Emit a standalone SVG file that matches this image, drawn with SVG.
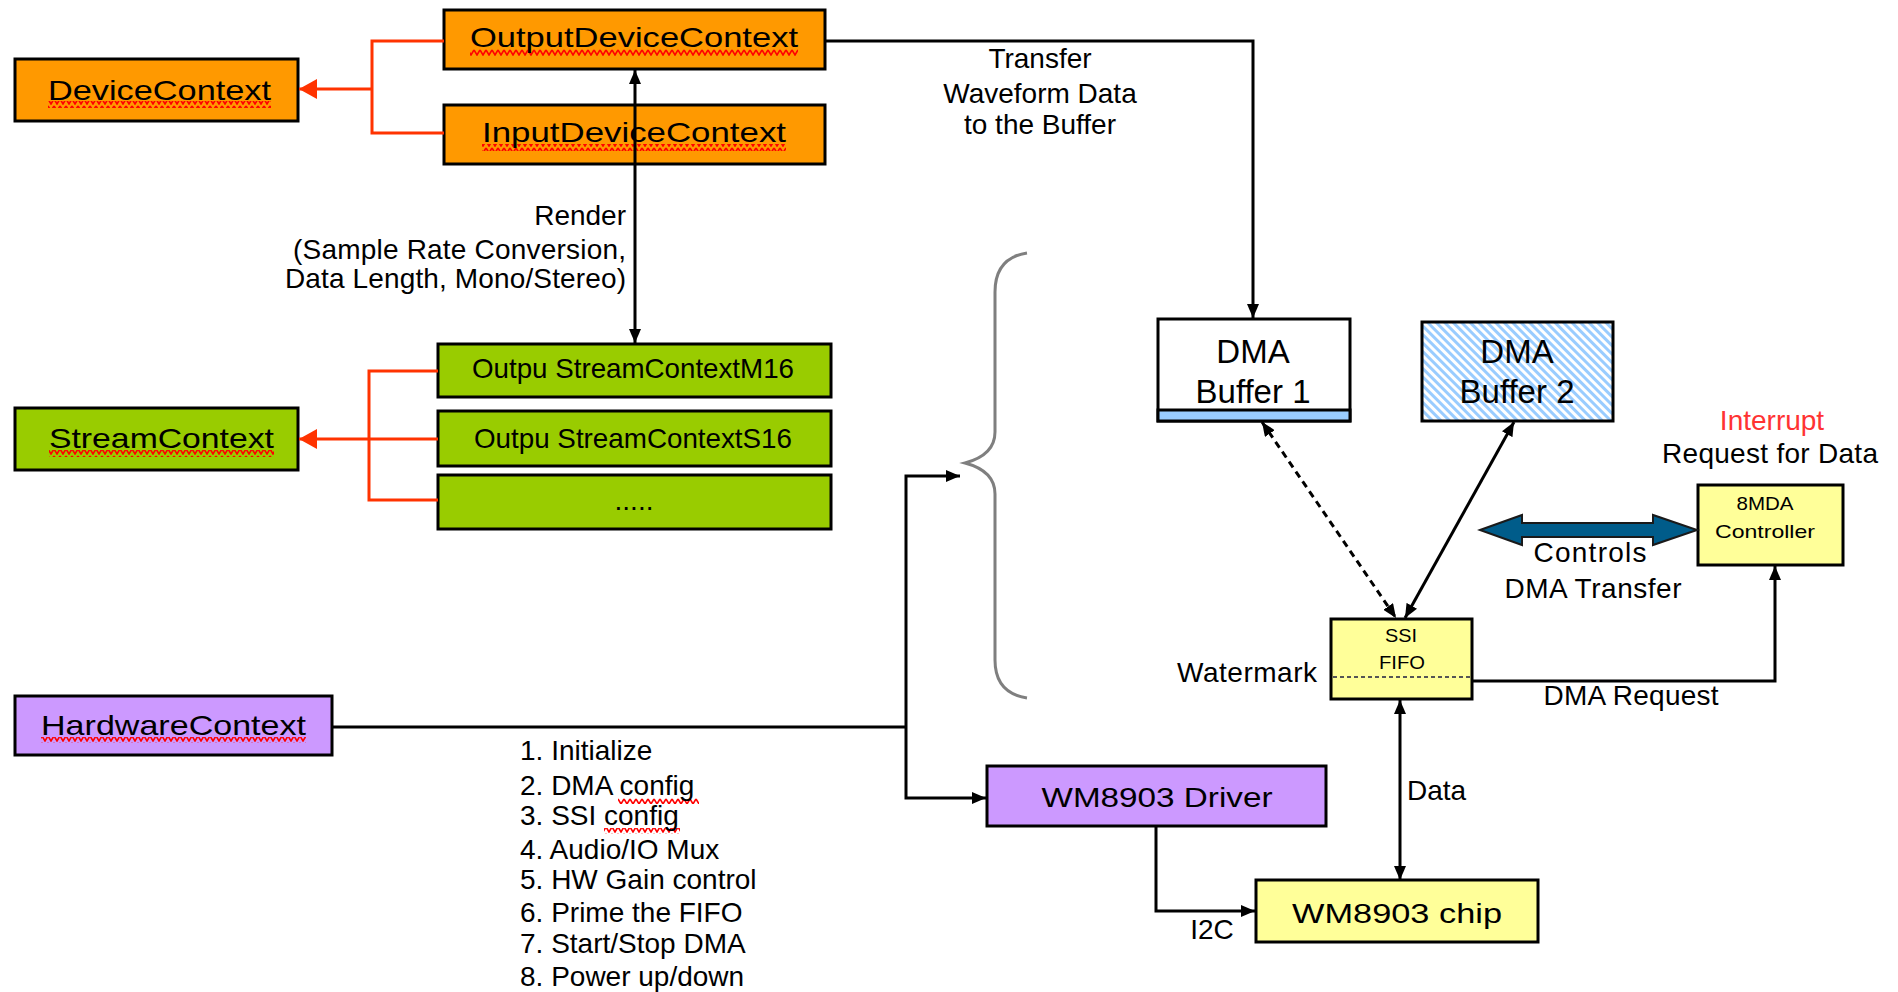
<svg xmlns="http://www.w3.org/2000/svg" width="1898" height="992" viewBox="0 0 1898 992">
  <style>
    text { font-family: "Liberation Sans", Arial, sans-serif; fill: #000; }
    .box { stroke: #000; stroke-width: 3; }
    .orange { fill: #FF9900; }
    .green { fill: #99CC00; }
    .purple { fill: #CC99FF; }
    .yellow { fill: #FFFF99; }
    .lbl { font-size: 28px; text-anchor: middle; }
    .big { font-size: 33px; text-anchor: middle; }
    .small { font-size: 19px; text-anchor: middle; }
    .note { font-size: 28px; }
    .wire { fill: none; stroke: #000; stroke-width: 3; }
    .red { fill: none; stroke: #FF3300; stroke-width: 3; }
    .brace { fill: none; stroke: #7f7f7f; stroke-width: 3; }
  </style>
  <defs>
    <marker id="arr" viewBox="0 0 14 12" refX="14" refY="6" markerWidth="14" markerHeight="12" markerUnits="userSpaceOnUse" orient="auto-start-reverse">
      <path d="M0,0 L14,6 L0,12 z" fill="#000"/>
    </marker>
    <marker id="arrRed" viewBox="0 0 18 20" refX="18" refY="10" markerWidth="18" markerHeight="20" markerUnits="userSpaceOnUse" orient="auto">
      <path d="M0,0 L18,10 L0,20 z" fill="#FF3300"/>
    </marker>
    <pattern id="squiggle" width="6" height="7" patternUnits="userSpaceOnUse">
      <path d="M0,1 L3,6 L6,1" fill="none" stroke="#FF0000" stroke-width="1.6"/>
    </pattern>
    <pattern id="hatch" width="6" height="6" patternUnits="userSpaceOnUse" patternTransform="rotate(-45)">
      <rect width="6" height="6" fill="#fff"/>
      <rect width="3" height="6" fill="#99CCFF"/>
    </pattern>
  </defs>

  <rect width="1898" height="992" fill="#fff"/>

  <!-- device contexts -->
  <g id="device-context">
    <rect class="box orange" x="15" y="59" width="283" height="62"/>
    <rect x="48" y="101" width="223" height="7" fill="url(#squiggle)"/>
    <text class="lbl" x="159.5" y="100" textLength="223" lengthAdjust="spacingAndGlyphs">DeviceContext</text>
  </g>
  <g id="output-device-context">
    <rect class="box orange" x="444" y="10" width="381" height="59"/>
    <rect x="470" y="49" width="328" height="7" fill="url(#squiggle)"/>
    <text class="lbl" x="634" y="47" textLength="328" lengthAdjust="spacingAndGlyphs">OutputDeviceContext</text>
  </g>
  <g id="input-device-context">
    <rect class="box orange" x="444" y="105" width="381" height="59"/>
    <rect x="482" y="144" width="304" height="7" fill="url(#squiggle)"/>
    <text class="lbl" x="634" y="142" textLength="304" lengthAdjust="spacingAndGlyphs">InputDeviceContext</text>
  </g>

  <!-- stream contexts -->
  <g id="stream-context">
    <rect class="box green" x="15" y="408" width="283" height="62"/>
    <rect x="49" y="450" width="225" height="7" fill="url(#squiggle)"/>
    <text class="lbl" x="161.5" y="448" textLength="225" lengthAdjust="spacingAndGlyphs">StreamContext</text>
  </g>
  <g id="stream-m16">
    <rect class="box green" x="438" y="344" width="393" height="53"/>
    <text class="lbl" x="633" y="378" textLength="322" lengthAdjust="spacingAndGlyphs">Outpu StreamContextM16</text>
  </g>
  <g id="stream-s16">
    <rect class="box green" x="438" y="411" width="393" height="55"/>
    <text class="lbl" x="633" y="448" textLength="318" lengthAdjust="spacingAndGlyphs">Outpu StreamContextS16</text>
  </g>
  <g id="stream-more">
    <rect class="box green" x="438" y="475" width="393" height="54"/>
    <text class="lbl" x="634" y="510">.....</text>
  </g>

  <!-- hardware side -->
  <g id="hardware-context">
    <rect class="box purple" x="15" y="696" width="317" height="59"/>
    <rect x="41" y="737" width="265" height="6" fill="url(#squiggle)"/>
    <text class="lbl" x="173.5" y="735" textLength="265" lengthAdjust="spacingAndGlyphs">HardwareContext</text>
  </g>
  <g id="wm8903-driver">
    <rect class="box purple" x="987" y="766" width="339" height="60"/>
    <text class="lbl" x="1157" y="807" font-size="30" textLength="231" lengthAdjust="spacingAndGlyphs">WM8903 Driver</text>
  </g>
  <g id="wm8903-chip">
    <rect class="box yellow" x="1256" y="880" width="282" height="62"/>
    <text class="lbl" x="1397" y="923" font-size="30" textLength="210" lengthAdjust="spacingAndGlyphs">WM8903 chip</text>
  </g>

  <!-- DMA buffers -->
  <g id="dma-buffer-1">
    <rect class="box" x="1158" y="319" width="192" height="102" fill="#fff"/>
    <rect x="1158" y="410" width="192" height="11" fill="#99CCFF" stroke="#000" stroke-width="3"/>
    <text class="big" x="1253" y="363">DMA</text>
    <text class="big" x="1253" y="403">Buffer 1</text>
  </g>
  <g id="dma-buffer-2">
    <rect class="box" x="1422" y="322" width="191" height="99" fill="url(#hatch)"/>
    <text class="big" x="1517" y="363">DMA</text>
    <text class="big" x="1517" y="403">Buffer 2</text>
  </g>

  <!-- SSI FIFO -->
  <g id="ssi-fifo">
    <rect class="box yellow" x="1331" y="619" width="141" height="80"/>
    <line x1="1333" y1="677" x2="1470" y2="677" stroke="#555" stroke-width="2" stroke-dasharray="4,3"/>
    <text class="small" x="1401" y="642" font-size="17" textLength="32" lengthAdjust="spacingAndGlyphs">SSI</text>
    <text class="small" x="1402" y="669" font-size="17" textLength="46" lengthAdjust="spacingAndGlyphs">FIFO</text>
  </g>

  <!-- SDMA controller -->
  <g id="sdma-controller">
    <rect class="box yellow" x="1698" y="485" width="145" height="80"/>
    <text class="small" x="1765" y="510" textLength="57" lengthAdjust="spacingAndGlyphs">8MDA</text>
    <text class="small" x="1765" y="538" textLength="100" lengthAdjust="spacingAndGlyphs">Controller</text>
  </g>

  <!-- connectors -->
  <g id="connectors">
    <!-- inheritance, device contexts -->
    <polyline class="red" points="444,41 372,41 372,133 444,133"/>
    <line class="red" x1="372" y1="89" x2="299" y2="89" marker-end="url(#arrRed)"/>
    <!-- inheritance, stream contexts -->
    <polyline class="red" points="438,371 369,371 369,500 438,500"/>
    <line class="red" x1="438" y1="439" x2="299" y2="439" marker-end="url(#arrRed)"/>

    <!-- render path -->
    <line class="wire" x1="635" y1="70" x2="635" y2="343" stroke-width="2.5" marker-start="url(#arr)" marker-end="url(#arr)"/>

    <!-- waveform transfer into buffer 1 -->
    <polyline class="wire" points="825,41 1253,41 1253,318" marker-end="url(#arr)"/>

    <!-- buffers to FIFO -->
    <line class="wire" x1="1262" y1="422" x2="1396" y2="618" stroke-width="2" stroke-dasharray="7,5" marker-start="url(#arr)" marker-end="url(#arr)"/>
    <line class="wire" x1="1514" y1="422" x2="1405" y2="618" stroke-width="2.5" marker-start="url(#arr)" marker-end="url(#arr)"/>

    <!-- SDMA control -->
    <polygon points="1480,530 1522,515 1522,523 1653,523 1653,515 1697,530 1653,545 1653,537 1522,537 1522,545" fill="#005C8A" stroke="#1a1a1a" stroke-width="2"/>

    <!-- DMA request -->
    <polyline class="wire" points="1472,681 1775,681 1775,566" marker-end="url(#arr)"/>

    <!-- FIFO to chip data -->
    <line class="wire" x1="1400" y1="700" x2="1400" y2="880" stroke-width="2.5" marker-start="url(#arr)" marker-end="url(#arr)"/>

    <!-- hardware context fan-out -->
    <polyline class="wire" points="332,727 906,727"/>
    <polyline class="wire" points="960,476 906,476 906,798 986,798" marker-start="url(#arr)" marker-end="url(#arr)"/>

    <!-- I2C -->
    <polyline class="wire" points="1156,826 1156,911 1255,911" marker-end="url(#arr)"/>

    <!-- brace -->
    <path class="brace" d="M1027,253 Q995,258 995,292 L995,432 Q995,455 965,463 Q995,471 995,494 L995,660 Q995,693 1027,698"/>
  </g>

  <!-- free labels -->
  <g id="labels">
    <text class="note" x="626" y="225" text-anchor="end">Render</text>
    <text class="note" x="626" y="259" text-anchor="end" textLength="333">(Sample Rate Conversion,</text>
    <text class="note" x="626" y="288" text-anchor="end" textLength="341">Data Length, Mono/Stereo)</text>

    <text class="lbl" x="1040" y="68">Transfer</text>
    <text class="lbl" x="1040" y="103">Waveform Data</text>
    <text class="lbl" x="1040" y="134">to the Buffer</text>

    <text class="lbl" x="1772" y="430" fill="#FF3333" style="fill:#FF3333">Interrupt</text>
    <text class="lbl" x="1770" y="463" textLength="216">Request for Data</text>

    <text class="lbl" x="1590" y="562" textLength="113">Controls</text>
    <text class="lbl" x="1593" y="598" textLength="177">DMA Transfer</text>

    <text class="note" x="1317" y="682" text-anchor="end" textLength="140">Watermark</text>
    <text class="lbl" x="1631" y="705" textLength="175">DMA Request</text>
    <text class="note" x="1407" y="800">Data</text>
    <text class="note" x="1212" y="939" text-anchor="middle">I2C</text>

    <!-- steps issued by the hardware context -->
    <rect x="618" y="798" width="81" height="6" fill="url(#squiggle)"/>
    <rect x="604" y="828" width="76" height="6" fill="url(#squiggle)"/>
    <text class="note" x="520" y="760">1. Initialize</text>
    <text class="note" x="520" y="795">2. DMA config</text>
    <text class="note" x="520" y="825">3. SSI config</text>
    <text class="note" x="520" y="859">4. Audio/IO Mux</text>
    <text class="note" x="520" y="889">5. HW Gain control</text>
    <text class="note" x="520" y="922">6. Prime the FIFO</text>
    <text class="note" x="520" y="953">7. Start/Stop DMA</text>
    <text class="note" x="520" y="986">8. Power up/down</text>
  </g>
</svg>
